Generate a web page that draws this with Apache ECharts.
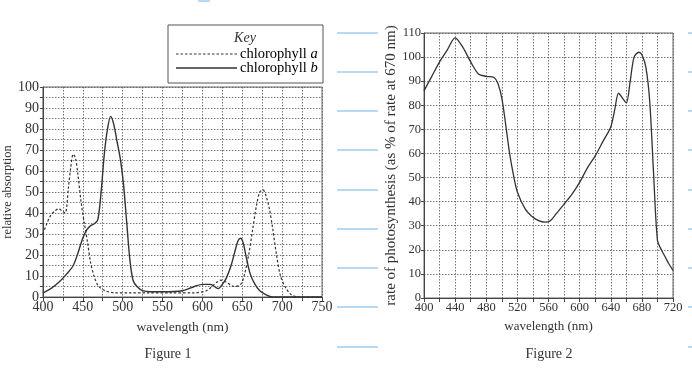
<!DOCTYPE html>
<html><head><meta charset="utf-8">
<script src="https://cdn.jsdelivr.net/npm/echarts@6/dist/echarts.min.js"></script>
<style>html,body{margin:0;padding:0;background:#fff}#c{width:692px;height:368px}</style>
</head><body><div id="c"></div>
<script>
// Figure 1 data
const chlA_nm  = [400,405,410,415,420,424,428,432,435,438,441,444,448,452,456,460,465,470,478,490,510,530,560,590,605,612,618,623,630,640,648,653,658,663,668,672,676,680,684,688,693,698,705,712,720,750];
const chlA_val = [30,35,39,41,42,41,40,52,62,68,66,58,45,35,26,16,9,5,3,2,2,2,2,2,3,5,7,8,7,5,6,11,20,32,44,50,51,48,42,33,20,10,4,1,0,0];
const chlB_nm  = [400,410,420,430,438,444,450,455,460,465,469,473,477,481,485,489,493,497,501,505,509,513,518,525,535,550,575,590,600,610,615,620,625,630,636,641,645,648,651,655,660,666,672,680,688,750];
const chlB_val = [2,4,7,11,15,21,28,32,34,35,37,50,68,80,86,82,74,66,54,36,18,8,5,3,2.5,2.5,3,5,6,6,5,4,6,9,15,22,27,28,26,19,11,6,3,1,0,0];
// Figure 2 data
const photo_nm  = [400,410,420,430,440,450,460,470,480,490,495,500,505,510,515,520,530,540,548,555,562,570,580,590,600,610,620,630,640,645,650,655,660,665,670,676,680,685,690,695,700,705,710,715,720];
const photo_val = [86,92,98,103,108,104,98,93,92,91.5,89,83,72,60,51,44,37,33.5,32,31.5,32,35,39,43,48,54,59,65,71,78,85,83,81,90,100,102,101,96,82,52,24,20,17,14,11.5];
// tick labels
const fig1XTicks = [400,450,500,550,600,650,700,750];
const fig1YTicks = [0,10,20,30,40,50,60,70,80,90,100];
const fig2XTicks = [400,440,480,520,560,600,640,680,720];
const fig2YTicks = [0,10,20,30,40,50,60,70,80,90,100,110];

const pair = (xs, ys) => xs.map((x, i) => [x, ys[i]]);
const serif = '"Liberation Serif","DejaVu Serif",serif';
const ink = '#333';
const gridLine = {show:true, lineStyle:{color:'#555', type:[1.5,1.5], width:0.8}};
const lbl1 = {fontFamily:serif, fontSize:14, color:'#333'};
const lbl2 = {fontFamily:serif, fontSize:12.5, color:'#333'};

const chart = echarts.init(document.getElementById('c'));
const blue = '#9fcdec';
const deco = [];
[33,72,111,150,190,229,268,307,347].forEach(y => {
  deco.push({type:'line', shape:{x1:337,y1:y,x2:378,y2:y}, style:{stroke:blue, lineWidth:1.5}});
  deco.push({type:'line', shape:{x1:688,y1:y,x2:692,y2:y}, style:{stroke:blue, lineWidth:1.5}});
});
deco.push({type:'line', shape:{x1:198,y1:1,x2:210,y2:1}, style:{stroke:blue, lineWidth:1.5}});

chart.setOption({
  animation:false,
  backgroundColor:'#fff',
  grid:[
    {left:42, right:370, top:87, bottom:71, show:true, borderColor:'#666', borderWidth:1, containLabel:false},
    {left:424, right:19, top:33, bottom:70, show:true, borderColor:'#666', borderWidth:1, containLabel:false}
  ],
  xAxis:[
    {type:'value', gridIndex:0, min:400, max:750, interval:25,
     axisLine:{lineStyle:{color:'#444'}}, axisTick:{show:true, length:4, lineStyle:{color:'#444'}},
     axisLabel:Object.assign({margin:3, formatter:v => fig1XTicks.includes(v) ? String(v) : ''}, lbl1),
     splitLine:gridLine,
     name:'wavelength (nm)', nameLocation:'middle', nameGap:23, nameTextStyle:{fontFamily:serif, fontSize:13.5, color:'#333'}},
    {type:'value', gridIndex:1, min:400, max:720, interval:20,
     axisLine:{lineStyle:{color:'#444'}}, axisTick:{show:true, length:4, lineStyle:{color:'#444'}},
     axisLabel:Object.assign({margin:3, formatter:v => fig2XTicks.includes(v) ? String(v) : ''}, lbl2),
     splitLine:gridLine,
     name:'wavelength (nm)', nameLocation:'middle', nameGap:22, nameTextStyle:{fontFamily:serif, fontSize:13, color:'#333'}}
  ],
  yAxis:[
    {type:'value', gridIndex:0, min:0, max:100, interval:5,
     axisLine:{show:true, lineStyle:{color:'#444'}}, axisTick:{show:true, length:3, lineStyle:{color:'#444'}},
     axisLabel:Object.assign({margin:4, formatter:v => fig1YTicks.includes(v) ? String(v) : ''}, lbl1),
     splitLine:gridLine,
     name:'relative absorption', nameLocation:'middle', nameGap:25, nameTextStyle:{fontFamily:serif, fontSize:12.5, color:'#333'}},
    {type:'value', gridIndex:1, min:0, max:110, interval:10,
     axisLine:{show:true, lineStyle:{color:'#444'}}, axisTick:{show:true, length:3, lineStyle:{color:'#444'}},
     axisLabel:Object.assign({margin:3, formatter:v => fig2YTicks.includes(v) ? String(v) : ''}, lbl2),
     splitLine:gridLine,
     name:'rate of photosynthesis (as % of rate at 670 nm)', nameLocation:'middle', nameGap:25, nameTextStyle:{fontFamily:serif, fontSize:15, color:'#333'}}
  ],
  series:[
    {name:'chlorophyll a', type:'line', xAxisIndex:0, yAxisIndex:0, data:pair(chlA_nm, chlA_val), smooth:0.3, showSymbol:false,
     lineStyle:{color:ink, width:1.2, type:[2.5,2]}},
    {name:'chlorophyll b', type:'line', xAxisIndex:0, yAxisIndex:0, data:pair(chlB_nm, chlB_val), smooth:0.3, showSymbol:false,
     lineStyle:{color:ink, width:1.4}},
    {name:'photosynthesis', type:'line', xAxisIndex:1, yAxisIndex:1, data:pair(photo_nm, photo_val), smooth:0.3, showSymbol:false,
     lineStyle:{color:ink, width:1.3}}
  ],
  graphic: deco.concat([
    {type:'rect', shape:{x:168, y:25, width:155, height:58}, style:{fill:'#fff', stroke:'#555', lineWidth:1}},
    {type:'text', style:{x:245, y:38, text:'Key', font:'italic 14px ' + serif, fill:'#333', textAlign:'center', textVerticalAlign:'middle'}},
    {type:'line', shape:{x1:176, y1:54, x2:237, y2:54}, style:{stroke:ink, lineWidth:1.2, lineDash:[2.5,2]}},
    {type:'line', shape:{x1:176, y1:68, x2:237, y2:68}, style:{stroke:ink, lineWidth:1.3}},
    {type:'text', style:{x:240, y:54, text:'{n|chlorophyll }{i|a}', textVerticalAlign:'middle',
      rich:{n:{fontFamily:serif, fontSize:14.5, color:'#333'}, i:{fontFamily:serif, fontSize:14.5, fontStyle:'italic', color:'#333'}}}},
    {type:'text', style:{x:240, y:68, text:'{n|chlorophyll }{i|b}', textVerticalAlign:'middle',
      rich:{n:{fontFamily:serif, fontSize:14.5, color:'#333'}, i:{fontFamily:serif, fontSize:14.5, fontStyle:'italic', color:'#333'}}}},
    {type:'text', style:{x:168, y:354, text:'Figure 1', font:'14px ' + serif, fill:'#333', textAlign:'center', textVerticalAlign:'middle'}},
    {type:'text', style:{x:549, y:354, text:'Figure 2', font:'14px ' + serif, fill:'#333', textAlign:'center', textVerticalAlign:'middle'}}
  ])
});
</script></body></html>
